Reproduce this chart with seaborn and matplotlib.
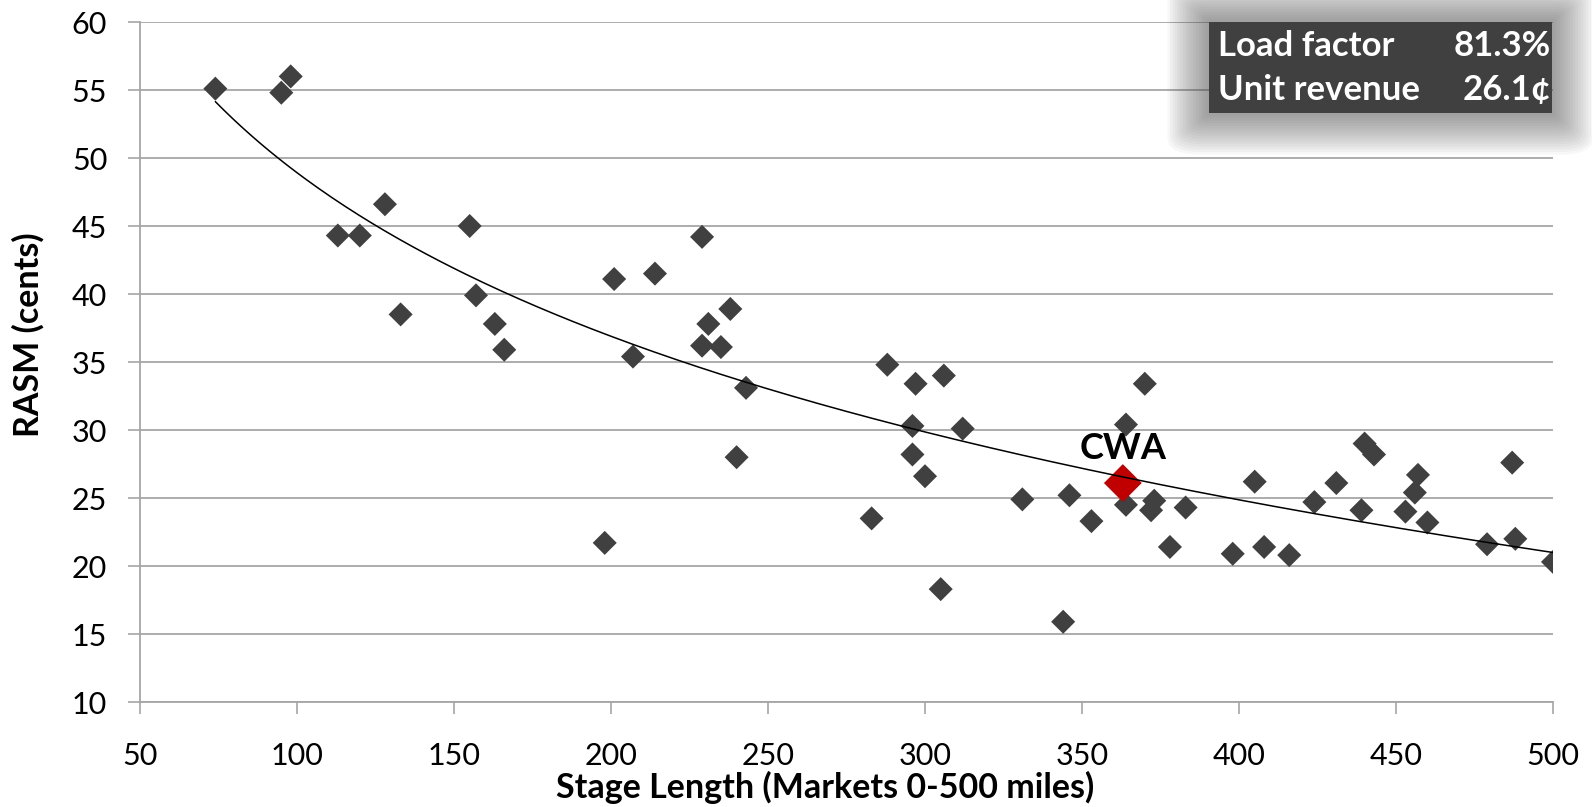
import matplotlib
matplotlib.use("Agg")
import matplotlib.pyplot as plt
import matplotlib.patches as mpatches
import numpy as np
import pandas as pd
import seaborn as sns

# ── data ────────────────────────────────────────────────────────────────
stage_length = [74, 95, 98, 113, 120, 128, 133, 155, 157, 163, 166,
                198, 201, 207, 214, 229, 231, 229, 235, 238, 243, 240,
                283, 288, 297, 296, 296, 300, 305, 306, 312,
                331, 344, 346, 353, 364, 364, 370, 373, 372, 378, 383,
                398, 405, 408, 416, 424, 431, 440, 443, 439, 453, 457,
                456, 460, 479, 487, 488, 500]
rasm = [55.1, 54.8, 56.0, 44.3, 44.3, 46.6, 38.5, 45.0, 39.9, 37.8, 35.9,
        21.7, 41.1, 35.4, 41.5, 44.2, 37.8, 36.2, 36.1, 38.9, 33.1, 28.0,
        23.5, 34.8, 33.4, 30.3, 28.2, 26.6, 18.3, 34.0, 30.1,
        24.9, 15.9, 25.2, 23.3, 30.4, 24.5, 33.4, 24.8, 24.1, 21.4, 24.3,
        20.9, 26.2, 21.4, 20.8, 24.7, 26.1, 29.0, 28.2, 24.1, 24.0, 26.7,
        25.4, 23.2, 21.6, 27.6, 22.0, 20.3]

cwa_stage = [363]
cwa_rasm = [26.1]
cwa_label = "CWA"

box_labels = ["Load factor", "Unit revenue"]
box_values = ["81.3%", "26.1¢"]

x_ticks = [50, 100, 150, 200, 250, 300, 350, 400, 450, 500]
y_ticks = [10, 15, 20, 25, 30, 35, 40, 45, 50, 55, 60]

POINT_COLOR = "#404040"
CWA_COLOR = "#c00000"
GRID_COLOR = "#a6a6a6"

sns.set_theme(style="white")
plt.rcParams["font.family"] = ["Lato", "DejaVu Sans"]
plt.rcParams["text.color"] = "black"
plt.rcParams["axes.labelcolor"] = "black"

df = pd.DataFrame({"stage": stage_length, "rasm": rasm})
cwa = pd.DataFrame({"stage": cwa_stage, "rasm": cwa_rasm})

fig = plt.figure(figsize=(15.92, 8.07), dpi=100)
ax = fig.add_axes([140 / 1592, 1 - 702 / 807, 1413 / 1592, 680 / 807])

sns.scatterplot(data=df, x="stage", y="rasm", marker="D", s=150,
                color=POINT_COLOR, edgecolor="none", ax=ax, zorder=3)
sns.scatterplot(data=cwa, x="stage", y="rasm", marker="D", s=370,
                color=CWA_COLOR, edgecolor="none", ax=ax, zorder=4)

# logarithmic trendline (Excel style)
b, a = np.polyfit(np.log(df["stage"]), df["rasm"], 1)
xs = np.linspace(df["stage"].min(), df["stage"].max(), 300)
ax.plot(xs, a + b * np.log(xs), color="black", lw=1.1, zorder=5)

ax.annotate(cwa_label, (cwa_stage[0], cwa_rasm[0]), xytext=(0, 25),
            textcoords="offset points", ha="center", va="center",
            fontsize=26, fontweight="bold", color="black", zorder=6)

ax.set_xlim(50, 500)
ax.set_ylim(10, 60)
ax.set_xticks(x_ticks)
ax.set_yticks(y_ticks)
ax.tick_params(axis="both", labelsize=22, colors=GRID_COLOR, labelcolor="black",
               length=8.6, width=1.2, direction="out")
ax.tick_params(axis="x", bottom=True, pad=20)
ax.tick_params(axis="y", left=True, pad=15)
ax.yaxis.grid(True, color=GRID_COLOR, lw=1.3)
ax.xaxis.grid(False)
ax.set_axisbelow(True)
ax.spines[["top", "right"]].set_visible(False)
for s in ["left", "bottom"]:
    ax.spines[s].set_color(GRID_COLOR)
    ax.spines[s].set_linewidth(1.3)

ax.set_xlabel("Stage Length (Markets 0-500 miles)", fontsize=24.5,
              fontweight="bold", va="center", color="black")
ax.set_ylabel("RASM (cents)", fontsize=24.5, fontweight="bold", va="center",
              color="black")
ax.xaxis.set_label_coords(0.485, -0.126)
ax.yaxis.set_label_coords(-0.079, 0.54)

# info box with soft glow
bx0, by0, bw, bh = 1209 / 1592, 1 - 113 / 807, 343 / 1592, 91 / 807
for i in range(16, 0, -1):
    pad = i * 2.6
    fig.patches.append(mpatches.FancyBboxPatch(
        (bx0 - pad / 1592, by0 - pad / 807), bw + 2 * pad / 1592, bh + 2 * pad / 807,
        boxstyle=f"round,pad=0,rounding_size={pad * 0.8 / 1592:.5f}",
        transform=fig.transFigure, facecolor="#505050", edgecolor="none",
        alpha=0.045, zorder=10))
fig.patches.append(mpatches.Rectangle(
    (bx0, by0), bw, bh, transform=fig.transFigure,
    facecolor="#404040", edgecolor="none", zorder=11))
row_y = [1 - 46 / 807, 1 - 90 / 807]
for lab, val, yy in zip(box_labels, box_values, row_y):
    fig.text(1218 / 1592, yy, lab, color="white", fontsize=25, fontweight="bold",
             ha="left", va="center", zorder=12)
    fig.text(1551 / 1592, yy, val, color="white", fontsize=25, fontweight="bold",
             ha="right", va="center", zorder=12)

fig.savefig("out.png", dpi=100)
